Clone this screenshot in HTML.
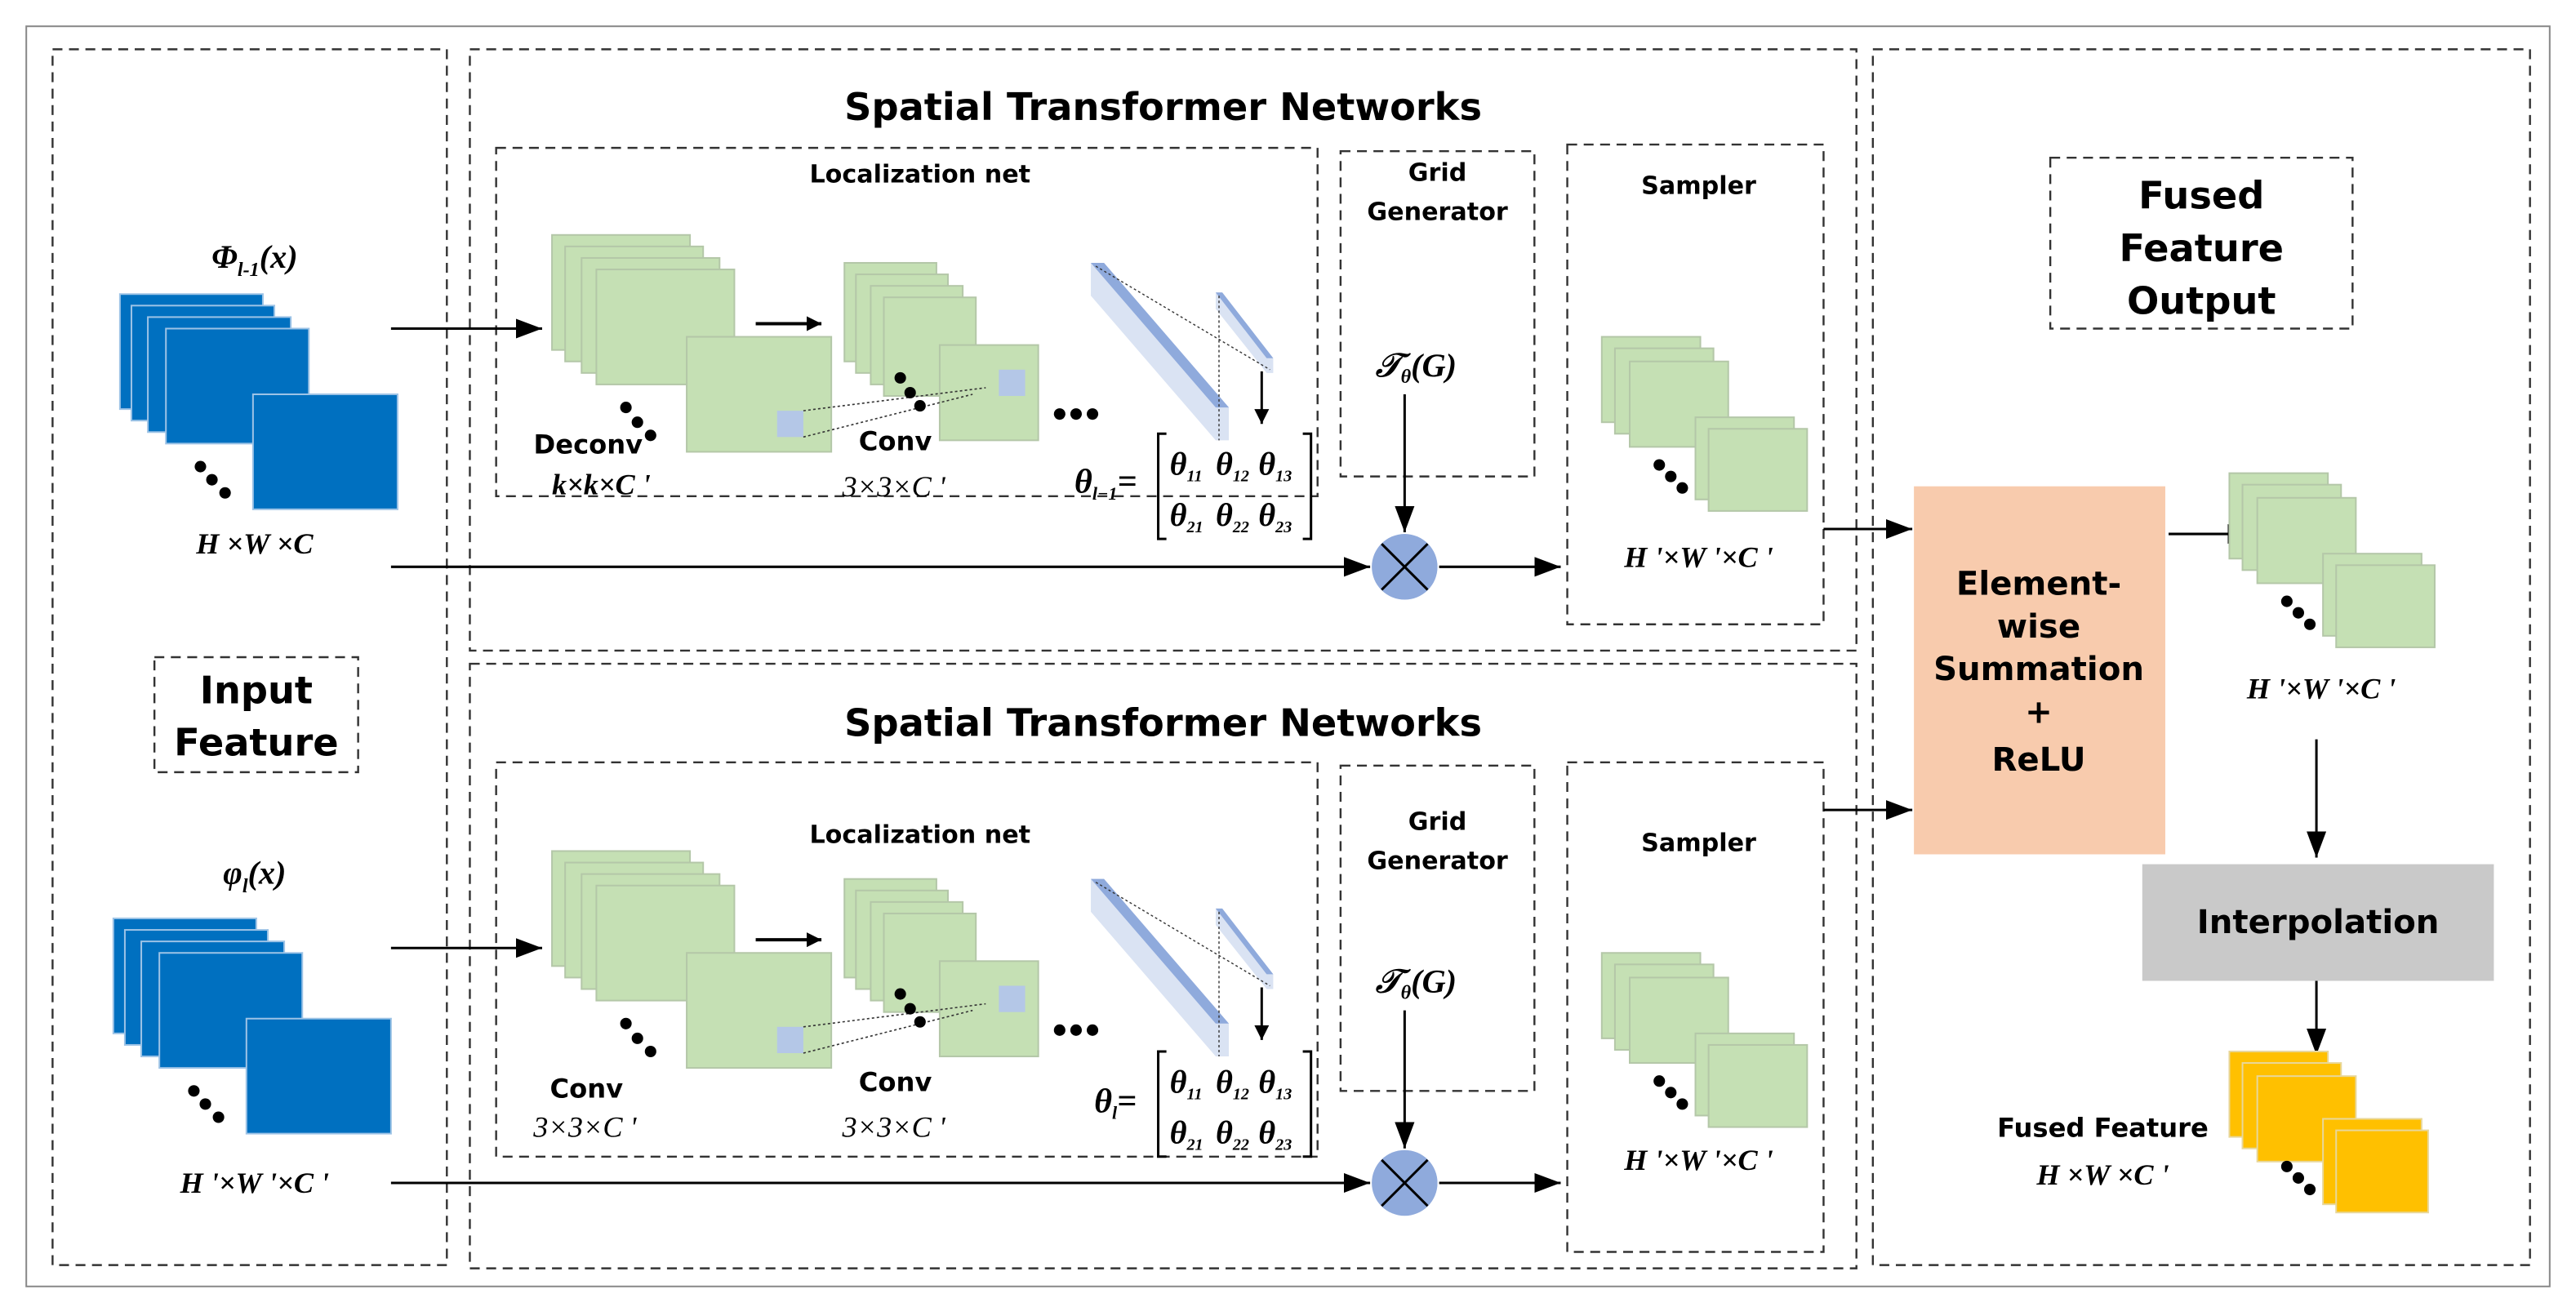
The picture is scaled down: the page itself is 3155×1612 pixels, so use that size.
<!DOCTYPE html>
<html><head><meta charset="utf-8"><style>
html,body{margin:0;padding:0;background:#fff}
svg{display:block}
.s{font-family:"DejaVu Sans","Liberation Sans",sans-serif}
.m{font-family:"Liberation Serif",serif;font-style:italic;font-weight:bold}
</style></head><body>
<svg width="3155" height="1612" viewBox="0 0 1568 801" preserveAspectRatio="none" xmlns="http://www.w3.org/2000/svg">
<defs>
<marker id="a" viewBox="0 0 10 10" refX="10" refY="5" markerWidth="9" markerHeight="9" markerUnits="userSpaceOnUse" orient="auto"><path d="M0,0 L10,5 L0,10 z" fill="#000"/></marker>
<marker id="b" viewBox="0 0 10 10" refX="10" refY="5" markerWidth="16" markerHeight="12" markerUnits="userSpaceOnUse" orient="auto" preserveAspectRatio="none"><path d="M0,0 L10,5 L0,10 z" fill="#000"/></marker>
<g id="blue"><g fill="#0070c0" stroke="#9dc3e6" stroke-width="1">
<rect x="73" y="179" width="87" height="70"/><rect x="80" y="186" width="87" height="70"/><rect x="90" y="193" width="87" height="70"/><rect x="101" y="200" width="87" height="70"/><rect x="154" y="240" width="88" height="70"/></g>
<circle cx="122" cy="284" r="3.5"/><circle cx="129" cy="292" r="3.5"/><circle cx="137" cy="300" r="3.5"/></g>
<g id="loc">
<g fill="#c5e0b4" stroke="#b4c7a8" stroke-width="1">
<rect x="336" y="143" width="84" height="70"/><rect x="344" y="150" width="84" height="70"/><rect x="354" y="157" width="84" height="70"/><rect x="363" y="164" width="84" height="70"/><rect x="418" y="205" width="88" height="70"/>
<rect x="514" y="160" width="56" height="60"/><rect x="521" y="167" width="56" height="60"/><rect x="530" y="174" width="56" height="60"/><rect x="538" y="181" width="56" height="60"/><rect x="572" y="210" width="60" height="58"/></g>
<rect x="473" y="250" width="16" height="16" fill="#b4c7e7"/><rect x="608" y="225" width="16" height="16" fill="#b4c7e7"/>
<g stroke="#333" stroke-width="0.8" stroke-dasharray="1.5,1.5"><line x1="489" y1="250" x2="600" y2="236"/><line x1="489" y1="266" x2="592" y2="240"/></g>
<circle cx="381" cy="248" r="3.5"/><circle cx="388" cy="257" r="3.5"/><circle cx="396" cy="265" r="3.5"/>
<circle cx="548" cy="230" r="3.5"/><circle cx="554" cy="239" r="3.5"/><circle cx="560" cy="247" r="3.5"/>
<circle cx="645" cy="252" r="3.5"/><circle cx="655" cy="252" r="3.5"/><circle cx="665" cy="252" r="3.5"/>
<line x1="460" y1="197" x2="500" y2="197" stroke="#000" stroke-width="2" marker-end="url(#a)"/>
<polygon points="664,160 672,160 748,248 748,268 740,268 664,180" fill="#dae3f3"/>
<polygon points="664,160 672,160 748,248 740,248" fill="#8faadc"/>
<polygon points="740,178 744,178 775,218 775,227 771,227 740,188" fill="#dae3f3"/>
<polygon points="740,178 744,178 775,218 771,218" fill="#8faadc"/>
<g stroke="#333" stroke-width="0.7" stroke-dasharray="1.5,1.5"><line x1="667" y1="162" x2="773" y2="225"/><line x1="742" y1="180" x2="742" y2="268"/></g>
<line x1="768" y1="226" x2="768" y2="258" stroke="#000" stroke-width="1.5" marker-end="url(#a)"/>
</g>
</defs>
<rect x="16" y="16" width="1536" height="767" fill="none" stroke="#888" stroke-width="1"/>
<g fill="none" stroke="#333" stroke-width="1.2" stroke-dasharray="6,4">
<rect x="32" y="30" width="240" height="740"/>
<rect x="286" y="30" width="844" height="366"/>
<rect x="286" y="404" width="844" height="368"/>
<rect x="1140" y="30" width="400" height="740"/>
<rect x="302" y="90" width="500" height="212"/>
<rect x="816" y="92" width="118" height="198"/>
<rect x="954" y="88" width="156" height="292"/>
<rect x="302" y="464" width="500" height="240"/>
<rect x="816" y="466" width="118" height="198"/>
<rect x="954" y="464" width="156" height="298"/>
<rect x="94" y="400" width="124" height="70"/>
<rect x="1248" y="96" width="184" height="104"/>
</g>
<g class="s" font-size="23" text-anchor="middle" fill="#000" font-weight="bold">
<text x="708" y="73">Spatial Transformer Networks</text>
<text x="708" y="448">Spatial Transformer Networks</text>
<text x="156" y="428">Input</text><text x="156" y="460">Feature</text>
<text x="1340" y="127">Fused</text><text x="1340" y="159">Feature</text><text x="1340" y="191">Output</text>
</g>
<g class="s" font-size="15" font-weight="bold" text-anchor="middle">
<text x="560" y="111">Localization net</text><text x="560" y="513">Localization net</text>
<text x="875" y="110">Grid</text><text x="875" y="134">Generator</text>
<text x="875" y="505">Grid</text><text x="875" y="529">Generator</text>
<text x="1034" y="118">Sampler</text><text x="1034" y="518">Sampler</text>
<text x="358" y="276" font-size="16">Deconv</text>
<text x="545" y="274" font-size="16">Conv</text>
<text x="357" y="668" font-size="16">Conv</text>
<text x="545" y="664" font-size="16">Conv</text>
</g>
<use href="#blue"/>
<use href="#blue" transform="translate(-4,380)"/>
<use href="#loc"/>
<use href="#loc" transform="translate(0,375)"/>
<g class="m" font-size="20" text-anchor="middle">
<text x="155" y="163">Φ<tspan font-size="12" dy="5">l-1</tspan><tspan dy="-5">(x)</tspan></text>
<text x="155" y="538">φ<tspan font-size="12" dy="5">l</tspan><tspan dy="-5">(x)</tspan></text>
<text x="155" y="337" font-size="18">H ×W ×C</text>
<text x="155" y="726" font-size="18">H '×W '×C '</text>
<text x="366" y="301" font-size="18">k×k×C '</text>
<text x="356" y="692" font-size="18" font-weight="normal">3×3×C '</text>
<text x="544" y="302" font-size="18" font-weight="normal">3×3×C '</text>
<text x="544" y="692" font-size="18" font-weight="normal">3×3×C '</text>
<text x="862" y="229">𝒯<tspan font-size="12" dy="4">θ</tspan><tspan dy="-4">(G)</tspan></text>
<text x="862" y="604">𝒯<tspan font-size="12" dy="4">θ</tspan><tspan dy="-4">(G)</tspan></text>
<text x="1034" y="345" font-size="18">H '×W '×C '</text>
<text x="1034" y="712" font-size="18">H '×W '×C '</text>
<text x="1413" y="425" font-size="18">H '×W '×C '</text>
<text x="1280" y="721" font-size="18">H ×W ×C '</text>
</g>
<g class="m" font-size="21" font-weight="normal">
<text x="654" y="300">θ<tspan font-size="11" dy="4">l−1</tspan><tspan dy="-4">=</tspan></text>
<text x="666" y="677">θ<tspan font-size="11" dy="4">l</tspan><tspan dy="-4">=</tspan></text>
</g>
<g id="mat">
<path d="M710,264 h-5 v64 h5 M793,264 h5 v64 h-5" fill="none" stroke="#000" stroke-width="1.5"/>
<g class="m" font-size="20" font-weight="normal">
<text x="712" y="289">θ<tspan font-size="10" dy="4">11</tspan></text><text x="740" y="289">θ<tspan font-size="10" dy="4">12</tspan></text><text x="766" y="289">θ<tspan font-size="10" dy="4">13</tspan></text>
<text x="712" y="320">θ<tspan font-size="10" dy="4">21</tspan></text><text x="740" y="320">θ<tspan font-size="10" dy="4">22</tspan></text><text x="766" y="320">θ<tspan font-size="10" dy="4">23</tspan></text>
</g></g>
<use href="#mat" transform="translate(0,376)"/>
<g stroke="#000" stroke-width="1.5" fill="none">
<line x1="238" y1="200" x2="330" y2="200" marker-end="url(#b)"/>
<line x1="238" y1="577" x2="330" y2="577" marker-end="url(#b)"/>
<line x1="238" y1="345" x2="834" y2="345" marker-end="url(#b)"/>
<line x1="238" y1="720" x2="834" y2="720" marker-end="url(#b)"/>
<line x1="876" y1="345" x2="950" y2="345" marker-end="url(#b)"/>
<line x1="876" y1="720" x2="950" y2="720" marker-end="url(#b)"/>
<line x1="855" y1="240" x2="855" y2="324" marker-end="url(#b)"/>
<line x1="855" y1="615" x2="855" y2="699" marker-end="url(#b)"/>
<line x1="1110" y1="322" x2="1164" y2="322" marker-end="url(#b)"/>
<line x1="1110" y1="493" x2="1164" y2="493" marker-end="url(#b)"/>
<line x1="1320" y1="325" x2="1372" y2="325" marker-end="url(#b)"/>
<line x1="1410" y1="450" x2="1410" y2="522" marker-end="url(#b)"/>
<line x1="1410" y1="597" x2="1410" y2="642" marker-end="url(#b)"/>
</g>
<g><circle cx="855" cy="345" r="20" fill="#8faadc"/><path d="M841,331 L869,359 M869,331 L841,359" stroke="#000" stroke-width="1.5"/>
<circle cx="855" cy="720" r="20" fill="#8faadc"/><path d="M841,706 L869,734 M869,706 L841,734" stroke="#000" stroke-width="1.5"/></g>
<g id="gs" fill="#c5e0b4" stroke="#b4c7a8" stroke-width="1">
<rect x="975" y="205" width="60" height="52"/><rect x="983" y="212" width="60" height="52"/><rect x="992" y="220" width="60" height="52"/><rect x="1032" y="254" width="60" height="50"/><rect x="1040" y="261" width="60" height="50"/>
<g fill="#000" stroke="none"><circle cx="1010" cy="283" r="3.5"/><circle cx="1017" cy="290" r="3.5"/><circle cx="1024" cy="297" r="3.5"/></g></g>
<use href="#gs" transform="translate(0,375)"/>
<use href="#gs" transform="translate(382,83)"/>
<g fill="#ffc000" stroke="#e8d79a" stroke-width="1">
<rect x="1357" y="640" width="60" height="52"/><rect x="1365" y="647" width="60" height="52"/><rect x="1374" y="655" width="60" height="52"/><rect x="1414" y="681" width="60" height="52"/><rect x="1422" y="688" width="56" height="50"/></g>
<g><circle cx="1392" cy="710" r="3.5"/><circle cx="1399" cy="717" r="3.5"/><circle cx="1406" cy="724" r="3.5"/></g>
<rect x="1165" y="296" width="153" height="224" fill="#f8cbad"/>
<rect x="1304" y="526" width="214" height="71" fill="#c9c9c9"/>
<g class="s" font-size="20" text-anchor="middle" font-weight="bold">
<text x="1241" y="362">Element-</text><text x="1241" y="388">wise</text><text x="1241" y="414">Summation</text><text x="1241" y="440">+</text><text x="1241" y="469">ReLU</text>
<text x="1411" y="568">Interpolation</text>
<text x="1280" y="692" font-size="16">Fused Feature</text>
</g>
</svg>
</body></html>
